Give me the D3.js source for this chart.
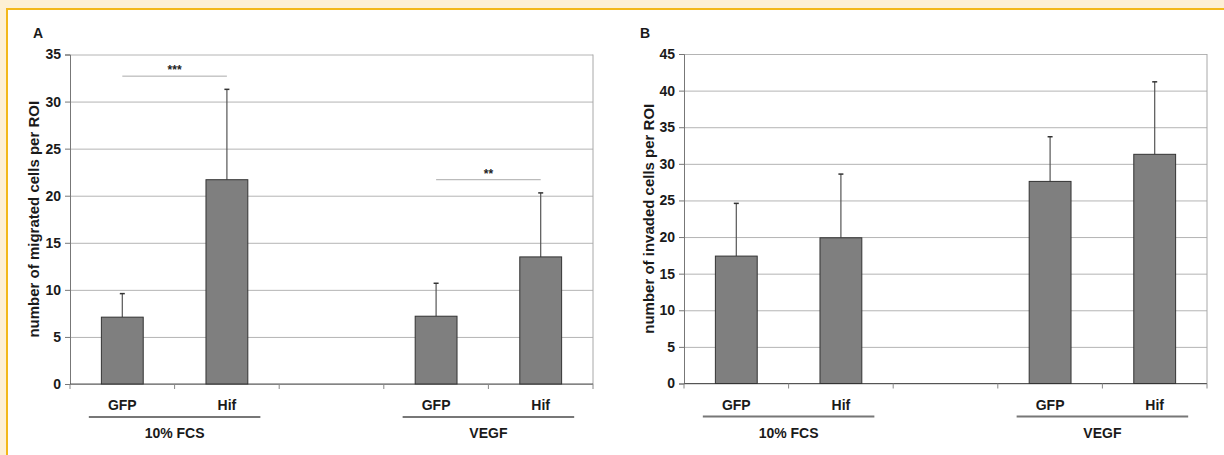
<!DOCTYPE html>
<html>
<head>
<meta charset="utf-8">
<script src="https://cdn.jsdelivr.net/npm/d3@7"></script>
<style>
  body { margin: 0; background: #fdf0d5; }
  svg { display: block; font-family: "Liberation Sans", Arial, sans-serif; }
</style>
</head>
<body>
<svg id="chart" width="1224" height="455"></svg>
<script>
// data
var categories = ["GFP", "Hif", "", "GFP", "Hif"];
var groups = [
  { label: "10% FCS", from: 0, to: 1 },
  { label: "VEGF", from: 3, to: 4 }
];
var migratedMean = [7.1, 21.7, null, 7.2, 13.5];
var migratedSD = [2.5, 9.6, null, 3.5, 6.8];
var invadedMean = [17.4, 19.9, null, 27.6, 31.3];
var invadedSD = [7.2, 8.7, null, 6.1, 9.9];
var migratedTicks = [0, 5, 10, 15, 20, 25, 30, 35];
var invadedTicks = [0, 5, 10, 15, 20, 25, 30, 35, 40, 45];
var migratedSig = [
  { from: 0, to: 1, y: 32.7, label: "***" },
  { from: 3, to: 4, y: 21.7, label: "**" }
];
var invadedSig = [];

var svg = d3.select("#chart");

// page background + gold frame
svg.append("rect").attr("width", 1224).attr("height", 455).attr("fill", "#fdf0d5");
svg.append("rect").attr("x", 8).attr("y", 10).attr("width", 1216).attr("height", 445).attr("fill", "#fff");
svg.append("path").attr("d", "M7,455 V9 H1224").attr("fill", "none")
  .attr("stroke", "#f3b81b").attr("stroke-width", 2);

function panel(opt) {
  var g = svg.append("g");
  var keys = categories.map(function (c, i) { return i; });

  var x = d3.scaleBand().domain(keys).range([opt.left, opt.right]).paddingInner(0).paddingOuter(0);
  var y = d3.scaleLinear().domain([0, opt.max]).range([opt.bottom, opt.top]);
  var bw = x.bandwidth();

  // gridlines
  g.append("g")
    .attr("transform", "translate(" + opt.left + ",0)")
    .call(d3.axisLeft(y).tickValues(opt.ticks).tickSize(-(opt.right - opt.left)).tickFormat(""))
    .call(function (a) {
      a.select(".domain").remove();
      a.selectAll("line").attr("stroke", "#b4b4b4");
    });

  // right border
  g.append("line")
    .attr("x1", opt.right).attr("x2", opt.right)
    .attr("y1", y(opt.max)).attr("y2", y(0))
    .attr("stroke", "#a8a8a8");

  // y axis
  g.append("g")
    .attr("transform", "translate(" + opt.left + ",0)")
    .call(d3.axisLeft(y).tickValues(opt.ticks).tickSize(5).tickPadding(4))
    .call(function (a) {
      a.select(".domain").attr("stroke", "#777");
      a.selectAll("line").attr("stroke", "#777");
      a.selectAll("text")
        .attr("font-size", 14).attr("font-weight", "bold").attr("fill", "#1a1a1a")
        .attr("font-family", "Liberation Sans, Arial, sans-serif");
    });

  // x axis line + boundary ticks
  g.append("line")
    .attr("x1", opt.left).attr("x2", opt.right)
    .attr("y1", y(0)).attr("y2", y(0))
    .attr("stroke", "#555");
  d3.range(categories.length + 1).forEach(function (i) {
    var xx = opt.left + i * x.step();
    g.append("line")
      .attr("x1", xx).attr("x2", xx)
      .attr("y1", y(0)).attr("y2", y(0) + 5)
      .attr("stroke", "#888");
  });

  // bars
  var rows = keys.filter(function (i) { return opt.mean[i] != null; });
  var barW = bw * 0.4;

  g.selectAll(".err").data(rows).enter().append("line")
    .attr("x1", function (i) { return x(i) + bw / 2; })
    .attr("x2", function (i) { return x(i) + bw / 2; })
    .attr("y1", function (i) { return y(opt.mean[i]); })
    .attr("y2", function (i) { return y(opt.mean[i] + opt.sd[i]); })
    .attr("stroke", "#555").attr("stroke-width", 1.2);
  g.selectAll(".cap").data(rows).enter().append("line")
    .attr("x1", function (i) { return x(i) + bw / 2 - 2.5; })
    .attr("x2", function (i) { return x(i) + bw / 2 + 2.5; })
    .attr("y1", function (i) { return y(opt.mean[i] + opt.sd[i]); })
    .attr("y2", function (i) { return y(opt.mean[i] + opt.sd[i]); })
    .attr("stroke", "#333").attr("stroke-width", 1.5);

  g.selectAll(".bar").data(rows).enter().append("rect")
    .attr("x", function (i) { return x(i) + (bw - barW) / 2; })
    .attr("width", barW)
    .attr("y", function (i) { return y(opt.mean[i]); })
    .attr("height", function (i) { return y(0) - y(opt.mean[i]); })
    .attr("fill", "#7f7f7f").attr("stroke", "#333").attr("stroke-width", 1);

  // category labels
  g.selectAll(".cat").data(keys).enter().append("text")
    .attr("x", function (i) { return x(i) + bw / 2; })
    .attr("y", y(0) + 26)
    .attr("text-anchor", "middle")
    .attr("font-size", 14).attr("font-weight", "bold").attr("fill", "#1a1a1a")
    .text(function (i) { return categories[i]; });

  // group underline + label
  groups.forEach(function (gr) {
    var x1 = x(gr.from) + bw * 0.18, x2 = x(gr.to) + bw * 0.82;
    g.append("line")
      .attr("x1", x1).attr("x2", x2)
      .attr("y1", y(0) + 33).attr("y2", y(0) + 33)
      .attr("stroke", "#777").attr("stroke-width", 2);
    g.append("text")
      .attr("x", (x1 + x2) / 2).attr("y", y(0) + 54)
      .attr("text-anchor", "middle")
      .attr("font-size", 14).attr("font-weight", "bold").attr("fill", "#1a1a1a")
      .text(gr.label);
  });

  // significance
  opt.sig.forEach(function (s) {
    var x1 = x(s.from) + bw / 2, x2 = x(s.to) + bw / 2;
    g.append("line")
      .attr("x1", x1).attr("x2", x2)
      .attr("y1", y(s.y)).attr("y2", y(s.y))
      .attr("stroke", "#aaa").attr("stroke-width", 1);
    g.append("text")
      .attr("x", (x1 + x2) / 2).attr("y", y(s.y) - 2)
      .attr("text-anchor", "middle")
      .attr("font-size", 12).attr("font-weight", "bold").attr("fill", "#222")
      .text(s.label);
  });

  // y title
  g.append("text")
    .attr("transform", "translate(" + opt.titleX + "," + ((opt.top + opt.bottom) / 2) + ") rotate(-90)")
    .attr("text-anchor", "middle")
    .attr("font-size", 15).attr("font-weight", "bold").attr("fill", "#1a1a1a")
    .text(opt.title);

  // panel letter
  g.append("text")
    .attr("x", opt.letterX).attr("y", 38)
    .attr("font-size", 14).attr("font-weight", "bold").attr("fill", "#1a1a1a")
    .text(opt.letter);
}

panel({
  left: 70, right: 593, top: 54.5, bottom: 384,
  max: 35, ticks: migratedTicks,
  mean: migratedMean, sd: migratedSD, sig: migratedSig,
  title: "number of migrated cells per ROI", titleX: 39,
  letter: "A", letterX: 33
});

panel({
  left: 684, right: 1207, top: 54, bottom: 383.5,
  max: 45, ticks: invadedTicks,
  mean: invadedMean, sd: invadedSD, sig: invadedSig,
  title: "number of invaded cells per ROI", titleX: 654,
  letter: "B", letterX: 640
});
</script>
</body>
</html>
